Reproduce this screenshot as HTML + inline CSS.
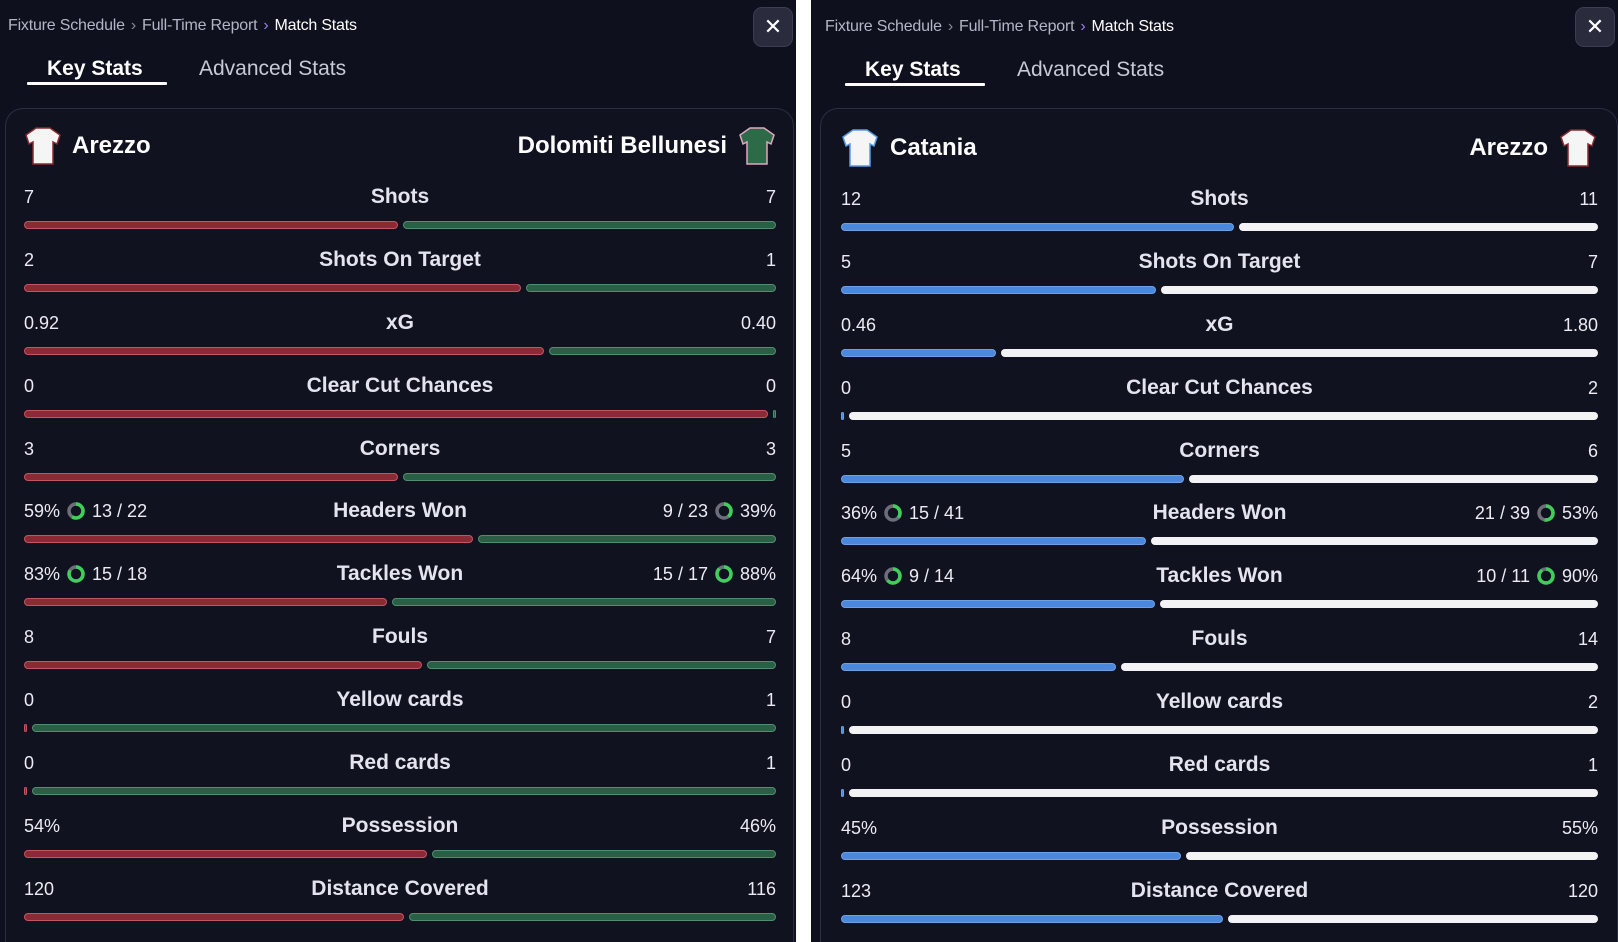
<!DOCTYPE html>
<html><head><meta charset="utf-8">
<style>
*{box-sizing:border-box;margin:0;padding:0}
body{width:1618px;height:942px;background:#fff;font-family:"Liberation Sans",sans-serif;position:relative;overflow:hidden}
.panel{position:absolute;top:0;height:942px;background:#0f101e;overflow:hidden}
.bc{position:absolute;top:17px;font-size:16px;color:#b4b5c4;white-space:nowrap;letter-spacing:-0.2px}
.bc b{font-weight:normal;color:#fff}
.bc .c{color:#8a8b9a;margin:0 6px}
.bc .p{color:#9b7cf5;margin:0 6px}
.close{position:absolute;top:7px;width:40px;height:40px;border-radius:9px;background:#2a2c3d;border:1px solid #3b3d50;color:#fff;font-size:22px;text-align:center;line-height:38px}
.tab{position:absolute;top:57px;font-size:21px;color:#c8c9d6}
.tab.on{color:#fff;font-weight:bold}
.ul{position:absolute;top:82px;height:3px;background:#fff;border-radius:1px}
.card{position:absolute;top:108px;height:834px;border:1px solid #2c2e42;border-bottom:none;border-radius:18px 18px 0 0;background:#11121f}
.team{position:absolute;font-size:24px;font-weight:bold;color:#fff;line-height:30px}
.rows{position:absolute}
.row{position:relative;height:62.9px}
.l,.r,.m{position:absolute;top:0;line-height:24px;color:#eceaf2}
.l{left:0;font-size:18px}
.r{right:0;font-size:18px;text-align:right}
.m{left:0;right:0;text-align:center;font-size:21px;font-weight:bold;color:#e4e4ee}
.bar{position:absolute;top:36px;left:0;right:0;height:8px;display:flex;gap:5px}
.bar div{height:8px;border-radius:4px}
.rd{background:#8a2a34;border:1px solid #c25560}
.gr{background:#2a5e45;border:1px solid #4f8f6d}
.bl{background:#4b87da;border:1px solid #6ea0e8}
.wh{background:#f3f3f5}
svg.d{vertical-align:-3px;margin:0 7px}
</style></head><body>

<!-- LEFT PANEL -->
<div class="panel" style="left:0;width:796px">
<div class="bc" style="left:8px">Fixture Schedule<span class="c">›</span>Full-Time Report<span class="p">›</span><b>Match Stats</b></div>
<div class="close" style="left:753px">✕</div>
<div class="tab on" style="left:47px">Key Stats</div>
<div class="ul" style="left:27px;width:140px"></div>
<div class="tab" style="left:199px">Advanced Stats</div>
<div class="card" style="left:5px;width:789px"></div>
<svg style="position:absolute;left:24px;top:126px" width="38" height="40" viewBox="0 0 38 40"><path d="M12 2 L26 2 L36 9 L33 18 L29 16 L29 38 L9 38 L9 16 L5 18 L2 9 Z" fill="#f5f5f5" stroke="#8a2a30" stroke-width="1.5"/></svg>
<div class="team" style="left:72px;top:131px">Arezzo</div>
<div class="team" style="right:69px;top:131px">Dolomiti Bellunesi</div>
<svg style="position:absolute;left:738px;top:126px" width="38" height="40" viewBox="0 0 38 40"><path d="M12 2 L26 2 L36 9 L33 18 L29 16 L29 38 L9 38 L9 16 L5 18 L2 9 Z" fill="#2d6a48" stroke="#e0a8c0" stroke-width="1.5"/></svg>
<div class="rows" style="left:24px;top:185px;width:752px">
<div class="row"><span class="l">7</span><span class="m">Shots</span><span class="r">7</span><div class="bar"><div class="rd" style="flex:7"></div><div class="gr" style="flex:7"></div></div></div>
<div class="row"><span class="l">2</span><span class="m">Shots On Target</span><span class="r">1</span><div class="bar"><div class="rd" style="flex:2"></div><div class="gr" style="flex:1"></div></div></div>
<div class="row"><span class="l">0.92</span><span class="m">xG</span><span class="r">0.40</span><div class="bar"><div class="rd" style="flex:0.92"></div><div class="gr" style="flex:0.40"></div></div></div>
<div class="row"><span class="l">0</span><span class="m">Clear Cut Chances</span><span class="r">0</span><div class="bar"><div class="rd" style="flex:1"></div><div class="gr" style="flex:0 0 3px"></div></div></div>
<div class="row"><span class="l">3</span><span class="m">Corners</span><span class="r">3</span><div class="bar"><div class="rd" style="flex:1"></div><div class="gr" style="flex:1"></div></div></div>
<div class="row"><span class="l">59%<svg class="d" width="18" height="18" viewBox="0 0 18 18"><circle cx="9" cy="9" r="7" fill="none" stroke="#6e6e7a" stroke-width="3.5"/><circle cx="9" cy="9" r="7" fill="none" stroke="#3ecf5a" stroke-width="3.5" stroke-dasharray="25.9 44" transform="rotate(-90 9 9)"/></svg>13 / 22</span><span class="m">Headers Won</span><span class="r">9 / 23<svg class="d" width="18" height="18" viewBox="0 0 18 18"><circle cx="9" cy="9" r="7" fill="none" stroke="#6e6e7a" stroke-width="3.5"/><circle cx="9" cy="9" r="7" fill="none" stroke="#3ecf5a" stroke-width="3.5" stroke-dasharray="17.2 44" transform="rotate(-90 9 9)"/></svg>39%</span><div class="bar"><div class="rd" style="flex:59"></div><div class="gr" style="flex:39"></div></div></div>
<div class="row"><span class="l">83%<svg class="d" width="18" height="18" viewBox="0 0 18 18"><circle cx="9" cy="9" r="7" fill="none" stroke="#6e6e7a" stroke-width="3.5"/><circle cx="9" cy="9" r="7" fill="none" stroke="#3ecf5a" stroke-width="3.5" stroke-dasharray="36.5 44" transform="rotate(-90 9 9)"/></svg>15 / 18</span><span class="m">Tackles Won</span><span class="r">15 / 17<svg class="d" width="18" height="18" viewBox="0 0 18 18"><circle cx="9" cy="9" r="7" fill="none" stroke="#6e6e7a" stroke-width="3.5"/><circle cx="9" cy="9" r="7" fill="none" stroke="#3ecf5a" stroke-width="3.5" stroke-dasharray="38.7 44" transform="rotate(-90 9 9)"/></svg>88%</span><div class="bar"><div class="rd" style="flex:83"></div><div class="gr" style="flex:88"></div></div></div>
<div class="row"><span class="l">8</span><span class="m">Fouls</span><span class="r">7</span><div class="bar"><div class="rd" style="flex:8"></div><div class="gr" style="flex:7"></div></div></div>
<div class="row"><span class="l">0</span><span class="m">Yellow cards</span><span class="r">1</span><div class="bar"><div class="rd" style="flex:0 0 3px"></div><div class="gr" style="flex:1"></div></div></div>
<div class="row"><span class="l">0</span><span class="m">Red cards</span><span class="r">1</span><div class="bar"><div class="rd" style="flex:0 0 3px"></div><div class="gr" style="flex:1"></div></div></div>
<div class="row"><span class="l">54%</span><span class="m">Possession</span><span class="r">46%</span><div class="bar"><div class="rd" style="flex:54"></div><div class="gr" style="flex:46"></div></div></div>
<div class="row"><span class="l">120</span><span class="m">Distance Covered</span><span class="r">116</span><div class="bar"><div class="rd" style="flex:120"></div><div class="gr" style="flex:116"></div></div></div>
</div>
</div>

<!-- RIGHT PANEL -->
<div class="panel" style="left:811px;width:807px">
<div class="bc" style="left:14px;top:18px">Fixture Schedule<span class="c">›</span>Full-Time Report<span class="p">›</span><b>Match Stats</b></div>
<div class="close" style="left:764px">✕</div>
<div class="tab on" style="left:54px;top:58px">Key Stats</div>
<div class="ul" style="left:34px;top:83px;width:140px"></div>
<div class="tab" style="left:206px;top:58px">Advanced Stats</div>
<div class="card" style="left:9px;width:798px"></div>
<svg style="position:absolute;left:30px;top:128px" width="38" height="40" viewBox="0 0 38 40"><path d="M12 2 L26 2 L36 9 L33 18 L29 16 L29 38 L9 38 L9 16 L5 18 L2 9 Z" fill="#f5f5f5" stroke="#5a9ae8" stroke-width="1.5"/></svg>
<div class="team" style="left:79px;top:133px">Catania</div>
<div class="team" style="right:70px;top:133px">Arezzo</div>
<svg style="position:absolute;left:748px;top:128px" width="38" height="40" viewBox="0 0 38 40"><path d="M12 2 L26 2 L36 9 L33 18 L29 16 L29 38 L9 38 L9 16 L5 18 L2 9 Z" fill="#f5f5f5" stroke="#8a2a30" stroke-width="1.5"/></svg>
<div class="rows" style="left:30px;top:187px;width:757px">
<div class="row"><span class="l">12</span><span class="m">Shots</span><span class="r">11</span><div class="bar"><div class="bl" style="flex:12"></div><div class="wh" style="flex:11"></div></div></div>
<div class="row"><span class="l">5</span><span class="m">Shots On Target</span><span class="r">7</span><div class="bar"><div class="bl" style="flex:5"></div><div class="wh" style="flex:7"></div></div></div>
<div class="row"><span class="l">0.46</span><span class="m">xG</span><span class="r">1.80</span><div class="bar"><div class="bl" style="flex:0.46"></div><div class="wh" style="flex:1.80"></div></div></div>
<div class="row"><span class="l">0</span><span class="m">Clear Cut Chances</span><span class="r">2</span><div class="bar"><div class="bl" style="flex:0 0 3px"></div><div class="wh" style="flex:1"></div></div></div>
<div class="row"><span class="l">5</span><span class="m">Corners</span><span class="r">6</span><div class="bar"><div class="bl" style="flex:5"></div><div class="wh" style="flex:6"></div></div></div>
<div class="row"><span class="l">36%<svg class="d" width="18" height="18" viewBox="0 0 18 18"><circle cx="9" cy="9" r="7" fill="none" stroke="#6e6e7a" stroke-width="3.5"/><circle cx="9" cy="9" r="7" fill="none" stroke="#3ecf5a" stroke-width="3.5" stroke-dasharray="15.8 44" transform="rotate(-90 9 9)"/></svg>15 / 41</span><span class="m">Headers Won</span><span class="r">21 / 39<svg class="d" width="18" height="18" viewBox="0 0 18 18"><circle cx="9" cy="9" r="7" fill="none" stroke="#6e6e7a" stroke-width="3.5"/><circle cx="9" cy="9" r="7" fill="none" stroke="#3ecf5a" stroke-width="3.5" stroke-dasharray="23.3 44" transform="rotate(-90 9 9)"/></svg>53%</span><div class="bar"><div class="bl" style="flex:36"></div><div class="wh" style="flex:53"></div></div></div>
<div class="row"><span class="l">64%<svg class="d" width="18" height="18" viewBox="0 0 18 18"><circle cx="9" cy="9" r="7" fill="none" stroke="#6e6e7a" stroke-width="3.5"/><circle cx="9" cy="9" r="7" fill="none" stroke="#3ecf5a" stroke-width="3.5" stroke-dasharray="28.1 44" transform="rotate(-90 9 9)"/></svg>9 / 14</span><span class="m">Tackles Won</span><span class="r">10 / 11<svg class="d" width="18" height="18" viewBox="0 0 18 18"><circle cx="9" cy="9" r="7" fill="none" stroke="#6e6e7a" stroke-width="3.5"/><circle cx="9" cy="9" r="7" fill="none" stroke="#3ecf5a" stroke-width="3.5" stroke-dasharray="39.6 44" transform="rotate(-90 9 9)"/></svg>90%</span><div class="bar"><div class="bl" style="flex:64"></div><div class="wh" style="flex:90"></div></div></div>
<div class="row"><span class="l">8</span><span class="m">Fouls</span><span class="r">14</span><div class="bar"><div class="bl" style="flex:8"></div><div class="wh" style="flex:14"></div></div></div>
<div class="row"><span class="l">0</span><span class="m">Yellow cards</span><span class="r">2</span><div class="bar"><div class="bl" style="flex:0 0 3px"></div><div class="wh" style="flex:1"></div></div></div>
<div class="row"><span class="l">0</span><span class="m">Red cards</span><span class="r">1</span><div class="bar"><div class="bl" style="flex:0 0 3px"></div><div class="wh" style="flex:1"></div></div></div>
<div class="row"><span class="l">45%</span><span class="m">Possession</span><span class="r">55%</span><div class="bar"><div class="bl" style="flex:45"></div><div class="wh" style="flex:55"></div></div></div>
<div class="row"><span class="l">123</span><span class="m">Distance Covered</span><span class="r">120</span><div class="bar"><div class="bl" style="flex:123"></div><div class="wh" style="flex:120"></div></div></div>
</div>
</div>
</body></html>
